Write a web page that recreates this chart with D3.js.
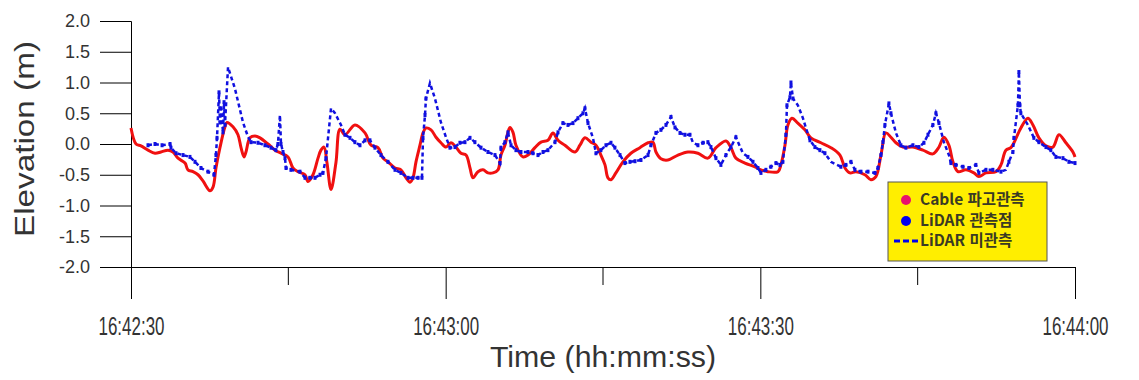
<!DOCTYPE html>
<html lang="ko">
  <head>
    <meta charset="utf-8">
    <title>Elevation vs Time</title>
    <script src="https://d3js.org/d3.v7.min.js"></script>
    <style type="text/css">
      body, html {
        margin: 0;
        padding: 0;
        background: #fff;
        font-family: "Liberation Sans", Arial, sans-serif;
      }
      .legend-text {
        font-family: "Noto Sans CJK KR", sans-serif;
        font-weight: bold;
        font-size: 15.5px;
        fill: #3a3a24;
      }
    </style>
  </head>
  <body>
    <script type="text/javascript">

      var w = 1139;
      var h = 380;

      // seconds after 16:42:30
      var cableT = [0, 0.48, 0.95, 1.62, 2.29, 2.86, 3.53, 4.0, 4.48, 5.15, 5.43, 5.91, 6.39, 6.86, 7.53, 7.82,
        8.1, 8.48, 8.96, 9.15, 9.72, 10.2, 10.49, 10.77, 10.96, 11.34, 11.82, 12.3, 13.06, 13.73, 14.3, 14.97,
        15.44, 15.92, 16.59, 16.87, 17.35, 17.83, 18.11, 18.4, 18.68, 19.07, 19.54, 19.92, 20.4, 21.35, 22.31,
        22.88, 23.55, 24.02, 24.5, 25.17, 25.74, 26.22, 26.6, 26.88, 27.17, 27.55, 27.84, 28.12, 28.6, 29.08,
        29.55, 30.03, 30.5, 30.98, 31.46, 31.94, 32.32, 32.6, 33.08, 33.56, 34.03, 34.51, 34.99, 35.27, 35.65,
        35.94, 36.13, 36.42, 36.7, 37.37, 37.85, 38.51, 39.09, 39.75, 40.23, 40.71, 41.37, 42.33, 42.8, 43.28,
        43.85, 44.33, 44.8, 45.19, 45.47, 45.76, 46.23, 46.9, 47.66, 48.52, 49.29, 49.76, 50.05, 50.52, 51.19,
        52.15, 53.1, 54.05, 55.0, 55.77, 56.72, 57.2, 57.67, 58.53, 59.49, 60.06, 60.72, 61.68, 61.96, 62.35,
        62.63, 63.01, 63.58, 64.25, 64.82, 65.78, 66.73, 67.59, 68.07, 68.54, 69.11, 69.97, 70.54, 71.02, 71.5,
        71.97, 72.45, 72.93, 73.59, 74.55, 75.5, 76.45, 77.03, 77.5, 77.98, 78.36, 78.84, 79.6, 80.36, 80.84,
        81.51, 82.46, 82.94, 83.41, 83.89, 84.18, 84.84, 85.51, 85.99, 86.56, 87.23, 87.89, 88.47, 89.13, 89.8, 90];
      var cableV = [0.26, 0.0, -0.03, -0.10, -0.15, -0.13, -0.10, -0.13, -0.23, -0.31, -0.42, -0.45, -0.50, -0.60, -0.76, -0.70,
        -0.39, -0.06, 0.28, 0.35, 0.28, 0.15, -0.06, -0.21, -0.13, 0.10, 0.13, 0.10, 0.0, -0.10, -0.15, -0.21,
        -0.39, -0.45, -0.50, -0.61, -0.50, -0.23, -0.10, -0.05, -0.30, -0.74, -0.30, 0.24, 0.15, 0.31, 0.18,
        -0.02, -0.06, -0.23, -0.29, -0.39, -0.42, -0.55, -0.62, -0.55, -0.29, -0.02, 0.18, 0.26, 0.23, 0.11,
        0.02, -0.05, 0.02, -0.05, -0.15, -0.18, -0.39, -0.55, -0.45, -0.42, -0.47, -0.47, -0.42, -0.18, -0.02,
        0.19, 0.27, 0.19, -0.02, -0.21, -0.18, -0.06, 0.03, 0.06, 0.18, 0.06, -0.02, -0.13, -0.02, 0.10,
        0.03, -0.02, -0.18, -0.34, -0.55, -0.58, -0.47, -0.29, -0.15, -0.06, 0.02, 0.03, -0.13, -0.24, -0.26,
        -0.18, -0.13, -0.15, -0.23, -0.06, 0.05, -0.06, -0.23, -0.31, -0.37, -0.42, -0.45, -0.45, -0.34, -0.02,
        0.31, 0.42, 0.34, 0.23, 0.10, 0.02, -0.06, -0.18, -0.39, -0.47, -0.45, -0.50, -0.58, -0.53, -0.18,
        0.18, 0.11, 0.02, -0.05, -0.05, -0.10, -0.16, -0.05, 0.11, -0.02, -0.29, -0.45, -0.42, -0.47, -0.53,
        -0.47, -0.45, -0.34, -0.10, -0.06, 0.02, 0.26, 0.42, 0.31, 0.10, -0.03, -0.05, 0.15, 0.02, -0.13, -0.21];

      // LiDAR: 1 = observed point, 0 = not observed (dashed gap)
      var lidarT = [1.62, 2.29, 2.96, 3.72, 3.81, 4.29, 4.96, 5.62, 6.1, 6.67, 7.34, 7.91, 8.1, 8.2, 8.39, 8.48,
        8.58, 8.77, 8.87, 8.96, 9.25, 9.91, 10.68, 11.15, 11.44, 12.11, 12.77, 13.35, 13.82, 14.01, 14.2, 14.3,
        14.49, 14.68, 14.78, 15.25, 16.11, 16.59, 17.06, 17.54, 18.02, 18.3, 18.59, 19.07, 19.45, 20.02, 20.4,
        20.88, 21.35, 21.83, 22.31, 22.78, 23.26, 23.83, 24.5, 25.17, 25.74, 26.41, 26.88, 27.36, 27.74, 27.84,
        28.03, 28.12, 28.5, 28.98, 29.55, 30.03, 30.41, 30.89, 31.36, 31.84, 32.32, 32.79, 33.37, 34.03, 34.7,
        35.18, 35.27, 35.65, 35.94, 36.23, 36.7, 37.18, 37.85, 38.32, 38.8, 39.28, 39.75, 40.42, 40.71, 41.18,
        41.66, 42.14, 42.61, 43.09, 43.28, 43.57, 44.04, 44.33, 44.8, 45.28, 45.76, 46.14, 46.62, 47.09, 47.57,
        48.05, 48.62, 49.29, 49.57, 50.05, 50.52, 51.0, 51.48, 51.86, 52.34, 52.81, 53.29, 53.58, 54.05, 54.53,
        55.0, 55.29, 55.77, 56.24, 56.72, 57.2, 57.67, 58.34, 58.82, 59.3, 59.77, 60.06, 60.53, 61.01, 61.49,
        61.87, 62.15, 62.44, 62.54, 62.82, 62.92, 63.11, 63.58, 64.06, 64.35, 64.73, 65.2, 65.68, 66.16, 66.73,
        67.68, 68.16, 68.64, 69.02, 69.59, 70.26, 70.93, 71.21, 71.5, 71.69, 71.88, 72.26, 72.45, 72.93, 73.4,
        73.88, 74.55, 75.12, 75.6, 75.98, 76.45, 76.74, 77.03, 77.5, 77.98, 78.17, 78.65, 79.31, 79.89, 80.55,
        80.84, 81.51, 82.17, 82.94, 83.41, 83.7, 84.08, 84.18, 84.56, 84.65, 84.75, 84.84, 85.51, 86.08, 86.56,
        87.23, 87.7, 88.18, 88.85, 89.42, 90];
      var lidarV = [-0.02, 0.0, -0.02, 0.0, -0.06, -0.15, -0.18, -0.21, -0.29, -0.39, -0.45, -0.50, -0.18, 0.10, 0.84, 0.35,
        0.58, 0.19, 0.68, 0.31, 1.25, 0.90, 0.35, 0.12, 0.03, 0.02, -0.02, -0.06, -0.10, 0.0, 0.47, 0.0,
        -0.13, -0.23, -0.39, -0.42, -0.45, -0.55, -0.55, -0.55, -0.50, -0.47, -0.23, 0.58, 0.50, 0.31, 0.15,
        0.10, 0.03, -0.02, 0.06, 0.06, -0.06, -0.18, -0.29, -0.42, -0.47, -0.55, -0.55, -0.55, -0.55, 0.10,
        0.47, 0.74, 0.99, 0.74, 0.35, 0.11, -0.06, -0.05, 0.02, 0.03, 0.10, 0.03, -0.06, -0.13, -0.18,
        -0.31, -0.06, 0.03, 0.19, -0.02, -0.10, -0.13, -0.13, -0.15, -0.18, -0.13, -0.10, 0.03, 0.19, 0.34,
        0.31, 0.34, 0.42, 0.50, 0.58, 0.34, 0.10, -0.15, -0.10, -0.02, 0.02, -0.06, -0.18, -0.31, -0.29,
        -0.28, -0.26, -0.18, -0.02, 0.18, 0.23, 0.31, 0.44, 0.27, 0.18, 0.15, 0.15, 0.02, -0.02, 0.02,
        0.03, -0.05, -0.23, -0.34, -0.18, -0.05, 0.11, -0.15, -0.21, -0.29, -0.39, -0.47, -0.42, -0.37, -0.31,
        -0.34, -0.29, 0.15, 0.63, 0.76, 1.0, 0.74, 0.63, 0.42, 0.26, 0.06, -0.05, -0.10, -0.15, -0.29,
        -0.37, -0.34, -0.29, -0.42, -0.45, -0.45, -0.47, -0.39, -0.18, 0.03, 0.31, 0.66, 0.50, 0.18, -0.02,
        -0.06, -0.02, -0.05, 0.02, 0.15, 0.31, 0.50, 0.34, 0.03, -0.18, -0.31, -0.34, -0.37, -0.39, -0.34,
        -0.47, -0.42, -0.42, -0.45, -0.42, -0.29, -0.13, 0.10, 0.63, 1.17, 0.63, 0.50, 0.31, 0.10, 0.03,
        -0.05, -0.10, -0.21, -0.23, -0.29, -0.31];
      var lidarSeen = [1, 1, 1, 1, 1, 1, 1, 1, 1, 1, 1, 1, 1, 1, 1, 1,
        1, 1, 1, 1, 0, 0, 0, 0, 1, 1, 1, 1, 1, 1, 0, 1,
        1, 1, 1, 1, 1, 1, 1, 1, 1, 1, 1, 0, 0, 0, 1,
        1, 1, 1, 1, 1, 1, 1, 1, 1, 1, 1, 1, 1, 1, 1,
        1, 1, 0, 0, 0, 0, 1, 1, 1, 1, 1, 1, 1, 1, 1,
        1, 1, 1, 1, 1, 1, 1, 1, 1, 1, 1, 1, 1, 1, 1,
        1, 1, 1, 1, 1, 1, 0, 1, 1, 1, 1, 1, 1, 1, 1,
        1, 1, 1, 1, 1, 1, 1, 1, 1, 1, 1, 1, 0, 1, 1,
        1, 1, 1, 1, 1, 1, 1, 0, 1, 1, 1, 1, 1, 1, 1,
        1, 1, 1, 1, 1, 1, 1, 0, 0, 0, 1, 1, 1, 1, 0,
        1, 1, 1, 1, 1, 1, 1, 1, 1, 1, 1, 1, 1, 0, 1,
        1, 1, 1, 1, 1, 1, 1, 1, 0, 0, 1, 1, 1, 1, 1,
        1, 1, 1, 1, 0, 1, 1, 1, 1, 1, 1, 1, 0, 1, 1,
        1, 1, 1, 1, 1, 1];

      var yTicks = [2.0, 1.5, 1.0, 0.5, 0.0, -0.5, -1.0, -1.5, -2.0];
      var legendNames = ["Cable 파고관측", "LiDAR 관측점", "LiDAR 미관측"];

      var margin = { top: 21, right: 64, bottom: 113, left: 131 };
      var width = w - margin.left - margin.right;
      var height = h - margin.top - margin.bottom;

      var t0 = new Date(2000, 0, 1, 16, 42, 30);
      function toDate(s) { return new Date(t0.getTime() + s * 1000); }

      var svg = d3.select("body")
        .append("svg")
        .attr("width", w)
        .attr("height", h);

      var g = svg.append("g")
        .attr("transform", "translate(" + margin.left + "," + margin.top + ")");

      var x = d3.scaleTime()
        .domain([t0, toDate(90)])
        .range([0, width]);

      var y = d3.scaleLinear()
        .domain([-2, 2])
        .range([height, 0]);

      // y axis, long ticks pointing left
      var yAxis = g.append("g")
        .call(d3.axisLeft(y).tickValues(yTicks).tickSize(31).tickPadding(10)
          .tickFormat(function(d) { return d.toFixed(1); }));
      yAxis.selectAll("text")
        .style("font-size", "18px")
        .style("fill", "#333")
        .style("font-family", "'Liberation Sans', Arial, sans-serif");

      // x axis: major every 30 s, minor every 15 s
      var xAxis = g.append("g")
        .attr("transform", "translate(0," + height + ")")
        .call(d3.axisBottom(x).ticks(d3.timeSecond.every(30)).tickSize(32).tickPadding(18)
          .tickFormat(d3.timeFormat("%H:%M:%S")));
      xAxis.selectAll("text")
        .attr("textLength", 66)
        .attr("lengthAdjust", "spacingAndGlyphs")
        .style("font-size", "25px")
        .style("fill", "#333")
        .style("font-family", "'Liberation Sans', Arial, sans-serif");

      g.append("g")
        .attr("transform", "translate(0," + height + ")")
        .selectAll("line")
        .data(d3.range(15, 90, 30))
        .enter()
        .append("line")
        .attr("x1", function(d) { return x(toDate(d)); })
        .attr("x2", function(d) { return x(toDate(d)); })
        .attr("y1", 0)
        .attr("y2", 18)
        .attr("stroke", "#000");

      g.selectAll(".domain").attr("stroke", "#000");
      g.selectAll(".tick line").attr("stroke", "#000");

      // axis titles
      svg.append("text")
        .attr("transform", "translate(34,139) rotate(-90)")
        .attr("text-anchor", "middle")
        .attr("textLength", 196)
        .attr("lengthAdjust", "spacingAndGlyphs")
        .style("font-size", "27px")
        .style("fill", "#333")
        .text("Elevation (m)");

      svg.append("text")
        .attr("x", 603)
        .attr("y", 367)
        .attr("text-anchor", "middle")
        .attr("textLength", 226)
        .attr("lengthAdjust", "spacingAndGlyphs")
        .style("font-size", "30px")
        .style("fill", "#333")
        .text("Time (hh:mm:ss)");

      var cable = cableT.map(function(t, i) { return { t: t, v: cableV[i] }; });
      var lidar = lidarT.map(function(t, i) { return { t: t, v: lidarV[i], seen: lidarSeen[i] }; });

      var line = d3.line()
        .x(function(d) { return x(toDate(d.t)); })
        .y(function(d) { return y(d.v); });

      // cable series (red)
      g.append("path")
        .datum(cable)
        .attr("d", line.curve(d3.curveCatmullRom))
        .attr("fill", "none")
        .attr("stroke", "#f01010")
        .attr("stroke-width", 3);

      // lidar dashed line + observed dots
      g.append("path")
        .datum(lidar)
        .attr("d", line.curve(d3.curveLinear))
        .attr("fill", "none")
        .attr("stroke", "#1010e0")
        .attr("stroke-width", 2.5)
        .attr("stroke-dasharray", "4,3");

      g.selectAll(".obs")
        .data(lidar.filter(function(d) { return d.seen; }))
        .enter()
        .append("rect")
        .attr("class", "obs")
        .attr("x", function(d) { return x(toDate(d.t)) - 1.5; })
        .attr("y", function(d) { return y(d.v) - 2; })
        .attr("width", 3)
        .attr("height", 4)
        .attr("fill", "#1010e0");

      // legend
      var lg = svg.append("g").attr("transform", "translate(888,182)");
      lg.append("rect")
        .attr("width", 159)
        .attr("height", 79)
        .attr("fill", "#ffee00")
        .attr("stroke", "#555")
        .attr("stroke-width", 1);

      var rows = [18, 39, 59];
      lg.append("circle").attr("cx", 18).attr("cy", rows[0]).attr("r", 5).attr("fill", "#e8106e");
      lg.append("circle").attr("cx", 18).attr("cy", rows[1]).attr("r", 5).attr("fill", "#0000ee");
      lg.append("line")
        .attr("x1", 6).attr("x2", 30).attr("y1", rows[2]).attr("y2", rows[2])
        .attr("stroke", "#0000ee").attr("stroke-width", 3).attr("stroke-dasharray", "6,3");

      lg.selectAll(".legend-text")
        .data(legendNames)
        .enter()
        .append("text")
        .attr("class", "legend-text")
        .attr("x", 32)
        .attr("y", function(d, i) { return rows[i]; })
        .attr("dy", "0.35em")
        .text(function(d) { return d; });

    </script>
  </body>
</html>
